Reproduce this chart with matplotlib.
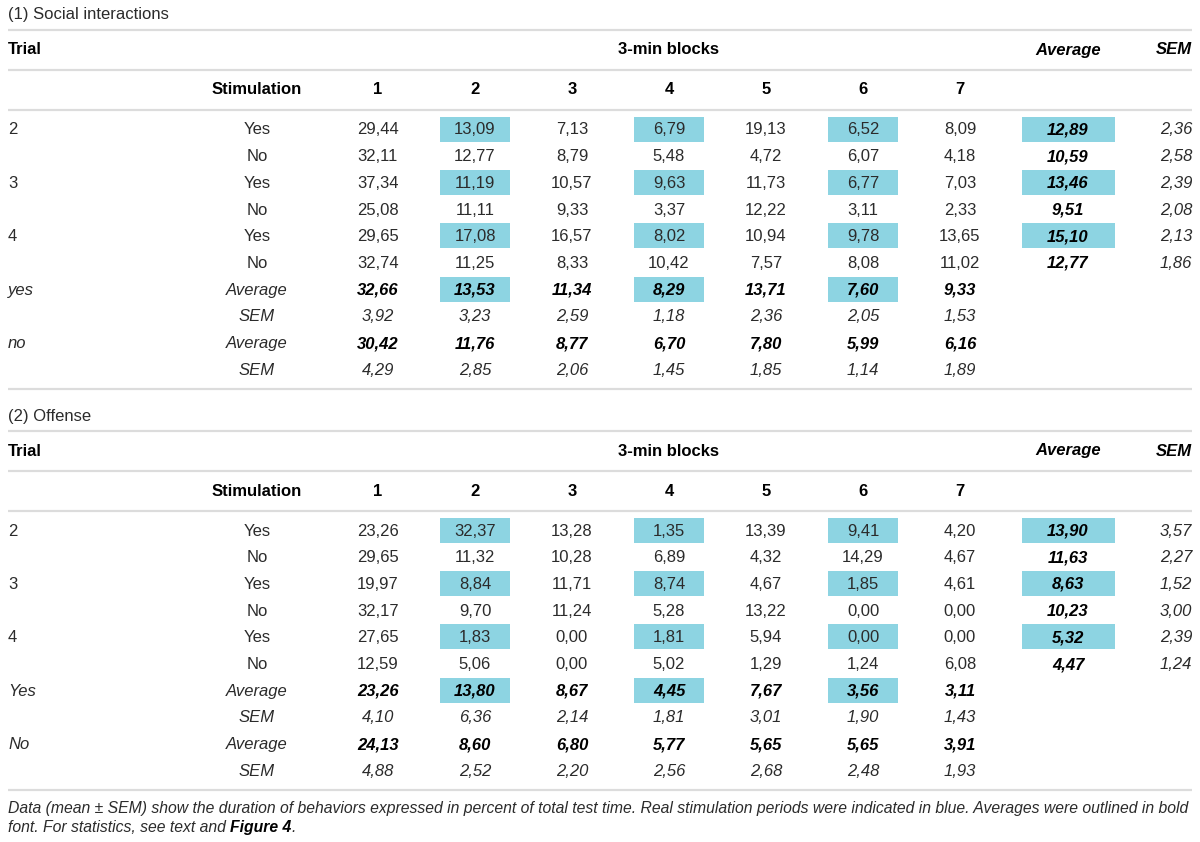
import matplotlib.pyplot as plt
from matplotlib.patches import Rectangle

# ---- data ----
blocks = ['1', '2', '3', '4', '5', '6', '7']
trials = ['2', '3', '4']
stim_labels = ['Yes', 'No']
blue_blocks = [1, 3, 5]  # index of blocks 2, 4, 6 (real stimulation)

social_yes = [[29.44, 13.09, 7.13, 6.79, 19.13, 6.52, 8.09],
              [37.34, 11.19, 10.57, 9.63, 11.73, 6.77, 7.03],
              [29.65, 17.08, 16.57, 8.02, 10.94, 9.78, 13.65]]
social_no = [[32.11, 12.77, 8.79, 5.48, 4.72, 6.07, 4.18],
             [25.08, 11.11, 9.33, 3.37, 12.22, 3.11, 2.33],
             [32.74, 11.25, 8.33, 10.42, 7.57, 8.08, 11.02]]
social_avg_yes = [12.89, 13.46, 15.10]
social_sem_yes = [2.36, 2.39, 2.13]
social_avg_no = [10.59, 9.51, 12.77]
social_sem_no = [2.58, 2.08, 1.86]
social_block_avg_yes = [32.66, 13.53, 11.34, 8.29, 13.71, 7.60, 9.33]
social_block_sem_yes = [3.92, 3.23, 2.59, 1.18, 2.36, 2.05, 1.53]
social_block_avg_no = [30.42, 11.76, 8.77, 6.70, 7.80, 5.99, 6.16]
social_block_sem_no = [4.29, 2.85, 2.06, 1.45, 1.85, 1.14, 1.89]

offense_yes = [[23.26, 32.37, 13.28, 1.35, 13.39, 9.41, 4.20],
               [19.97, 8.84, 11.71, 8.74, 4.67, 1.85, 4.61],
               [27.65, 1.83, 0.00, 1.81, 5.94, 0.00, 0.00]]
offense_no = [[29.65, 11.32, 10.28, 6.89, 4.32, 14.29, 4.67],
              [32.17, 9.70, 11.24, 5.28, 13.22, 0.00, 0.00],
              [12.59, 5.06, 0.00, 5.02, 1.29, 1.24, 6.08]]
offense_avg_yes = [13.90, 8.63, 5.32]
offense_sem_yes = [3.57, 1.52, 2.39]
offense_avg_no = [11.63, 10.23, 4.47]
offense_sem_no = [2.27, 3.00, 1.24]
offense_block_avg_yes = [23.26, 13.80, 8.67, 4.45, 7.67, 3.56, 3.11]
offense_block_sem_yes = [4.10, 6.36, 2.14, 1.81, 3.01, 1.90, 1.43]
offense_block_avg_no = [24.13, 8.60, 6.80, 5.77, 5.65, 5.65, 3.91]
offense_block_sem_no = [4.88, 2.52, 2.20, 2.56, 2.68, 2.48, 1.93]

caption1 = ("Data (mean \u00b1 SEM) show the duration of behaviors expressed in percent of total "
            "test time. Real stimulation periods were indicated in blue. Averages were outlined in bold")
caption2a = "font. For statistics, see text and "
caption2b = "Figure 4"
caption2c = "."

# ---- layout ----
plt.rcParams['font.family'] = ['Liberation Sans', 'DejaVu Sans']
FS = 12
TXT = '#2b2b2b'
BLUE = '#8dd4e2'
LINE = '#dcdcdc'
BL = 5.5  # baseline offset from row centre

x_trial = 8
x_stim = 257
x_blocks = [378 + 97 * i for i in range(7)]
x_avg = 1068
x_sem = 1192
row_h = 26.7

fig = plt.figure(figsize=(12, 8.42), dpi=100)
ax = fig.add_axes([0, 0, 1, 1])
ax.set_xlim(0, 1200)
ax.set_ylim(842, 0)
ax.axis('off')


def fmt(v):
    return f'{v:.2f}'.replace('.', ',')


def put(x, y, s, ha='center', color=TXT, **kw):
    ax.text(x, y + BL, s, fontsize=FS, color=color, ha=ha, va='baseline', **kw)


def hline(y):
    ax.plot([8, 1192], [y, y], color=LINE, lw=1.6, solid_capstyle='butt')


def box(xc, y, w):
    ax.add_patch(Rectangle((xc - w / 2, y - 12.5), w, 25, color=BLUE, lw=0))


def section(y0, title, yes, no, avg_yes, sem_yes, avg_no, sem_no,
            b_avg_yes, b_sem_yes, b_avg_no, b_sem_no, grp):
    put(x_trial, y0 + 14, title, ha='left')
    hline(y0 + 30)
    put(x_trial, y0 + 49, 'Trial', ha='left', color='black', fontweight='bold')
    put(x_blocks[3], y0 + 49, '3-min blocks', color='black', fontweight='bold')
    put(x_avg, y0 + 49, 'Average', color='black', fontweight='bold', style='italic')
    put(x_sem, y0 + 49, 'SEM', ha='right', color='black', fontweight='bold', style='italic')
    hline(y0 + 70)
    put(x_stim, y0 + 89, 'Stimulation', color='black', fontweight='bold')
    for i, b in enumerate(blocks):
        put(x_blocks[i], y0 + 89, b, color='black', fontweight='bold')
    hline(y0 + 110)

    y = y0 + 129
    for t in range(len(trials)):
        for s, (vals, av, se) in enumerate([(yes[t], avg_yes[t], sem_yes[t]),
                                            (no[t], avg_no[t], sem_no[t])]):
            if s == 0:
                put(x_trial, y, trials[t], ha='left')
                for bi in blue_blocks:
                    box(x_blocks[bi], y, 70)
                box(x_avg, y, 93)
            put(x_stim, y, stim_labels[s])
            for i, v in enumerate(vals):
                put(x_blocks[i], y, fmt(v))
            put(x_avg, y, fmt(av), color='black', fontweight='bold', style='italic')
            put(x_sem, y, fmt(se), ha='right', style='italic')
            y += row_h

    for g, (bav, bse) in enumerate([(b_avg_yes, b_sem_yes), (b_avg_no, b_sem_no)]):
        put(x_trial, y, grp[g], ha='left', style='italic')
        put(x_stim, y, 'Average', style='italic')
        if g == 0:
            for bi in blue_blocks:
                box(x_blocks[bi], y, 70)
        for i, v in enumerate(bav):
            put(x_blocks[i], y, fmt(v), color='black', fontweight='bold', style='italic')
        y += row_h
        put(x_stim, y, 'SEM', style='italic')
        for i, v in enumerate(bse):
            put(x_blocks[i], y, fmt(v), style='italic')
        y += row_h
    hline(y0 + 389)


section(0, '(1) Social interactions', social_yes, social_no,
        social_avg_yes, social_sem_yes, social_avg_no, social_sem_no,
        social_block_avg_yes, social_block_sem_yes,
        social_block_avg_no, social_block_sem_no, ['yes', 'no'])
section(401, '(2) Offense', offense_yes, offense_no,
        offense_avg_yes, offense_sem_yes, offense_avg_no, offense_sem_no,
        offense_block_avg_yes, offense_block_sem_yes,
        offense_block_avg_no, offense_block_sem_no, ['Yes', 'No'])

# caption, fitted to the table width
renderer = fig.canvas.get_renderer()
c1 = ax.text(x_trial, 813, caption1, fontsize=FS, style='italic', color=TXT, va='baseline')
w = c1.get_window_extent(renderer).width
cfs = FS * 1184 / w
c1.set_fontsize(cfs)
y2 = 1 - 832 / 842
ta = fig.text(x_trial / 1200, y2, caption2a, fontsize=cfs, style='italic',
              color=TXT, va='baseline')
xa = ta.get_window_extent(renderer).x1
tb = fig.text(xa / 1200, y2, caption2b, fontsize=cfs, style='italic',
              fontweight='bold', va='baseline')
xb = tb.get_window_extent(renderer).x1
fig.text(xb / 1200, y2, caption2c, fontsize=cfs, style='italic',
         color=TXT, va='baseline')

fig.savefig('out.png', dpi=100)
